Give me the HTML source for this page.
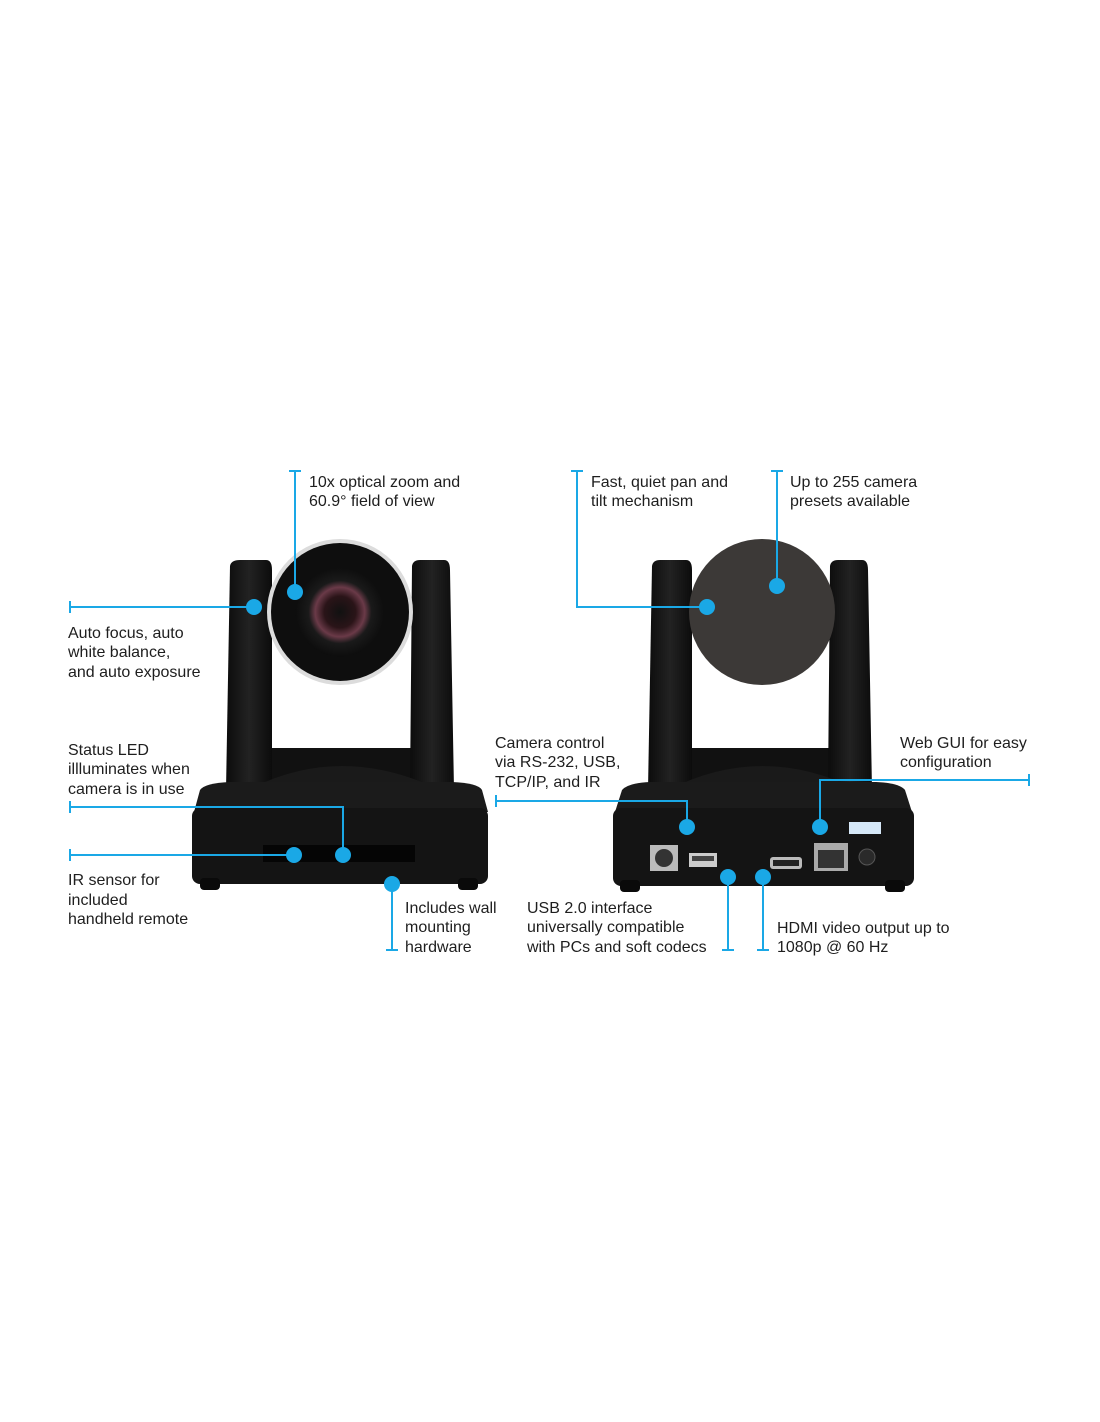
<!DOCTYPE html>
<html><head><meta charset="utf-8"><style>
html,body{margin:0;padding:0;background:#fff;}
svg{display:block}
text{font-family:"Liberation Sans",Arial,sans-serif;font-size:16px;fill:#1e1e1e;}
.b{stroke:#1aa8e6;stroke-width:2;fill:none}
.d{fill:#1aa8e6}
</style></head><body>
<svg width="1100" height="1422" viewBox="0 0 1100 1422" xmlns="http://www.w3.org/2000/svg">
<defs>
<radialGradient id="lens" cx="0.5" cy="0.5" r="0.5">
<stop offset="0" stop-color="#111"/><stop offset="0.35" stop-color="#2a1418"/><stop offset="0.55" stop-color="#6a3a48"/><stop offset="0.7" stop-color="#1a1a1a"/><stop offset="1" stop-color="#0d0d0d"/></radialGradient>
<linearGradient id="arm" x1="0" x2="1"><stop offset="0" stop-color="#0c0c0c"/><stop offset="0.5" stop-color="#222"/><stop offset="1" stop-color="#0c0c0c"/></linearGradient>
</defs>
<rect width="1100" height="1422" fill="#fff"/>

<!-- LEFT CAMERA -->
<rect x="236" y="748" width="210" height="50" fill="#111"/>
<path d="M230 566 Q231 560 240 560 L266 560 Q272 560 272 570 L272 790 L226 790 Z" fill="url(#arm)"/>
<path d="M412 566 Q413 560 420 560 L444 560 Q450 560 450 570 L454 790 L410 790 Z" fill="url(#arm)"/>
<path d="M248 790 Q340 742 440 790 Z" fill="#1a1a1a"/>
<path d="M200 790 Q205 783 230 782 L452 782 Q478 783 482 790 L488 812 L194 812 Z" fill="#1b1b1b"/>
<rect x="192" y="808" width="296" height="76" rx="8" fill="#141414"/>
<rect x="263" y="845" width="152" height="17" fill="#050505"/>
<rect x="200" y="878" width="20" height="12" rx="4" fill="#0a0a0a"/>
<rect x="458" y="878" width="20" height="12" rx="4" fill="#0a0a0a"/>
<circle cx="340" cy="612" r="73" fill="#dcdcdc"/>
<circle cx="340" cy="612" r="69" fill="#0e0e0e"/>
<circle cx="340" cy="612" r="45" fill="url(#lens)"/>

<!-- RIGHT CAMERA -->
<rect x="660" y="748" width="200" height="50" fill="#111"/>
<path d="M652 566 Q653 560 660 560 L686 560 Q692 560 692 570 L692 790 L648 790 Z" fill="url(#arm)"/>
<path d="M830 566 Q831 560 838 560 L862 560 Q868 560 868 570 L872 790 L828 790 Z" fill="url(#arm)"/>
<path d="M668 790 Q762 742 858 790 Z" fill="#1a1a1a"/>
<path d="M622 790 Q628 783 650 782 L876 782 Q900 783 905 790 L912 812 L615 812 Z" fill="#1b1b1b"/>
<rect x="613" y="808" width="301" height="78" rx="8" fill="#141414"/>
<rect x="620" y="880" width="20" height="12" rx="4" fill="#0a0a0a"/>
<rect x="885" y="880" width="20" height="12" rx="4" fill="#0a0a0a"/>
<circle cx="762" cy="612" r="73" fill="#3c3937"/>
<rect x="650" y="845" width="28" height="26" fill="#bbb"/><circle cx="664" cy="858" r="9" fill="#333"/>
<rect x="689" y="853" width="28" height="14" fill="#ccc"/><rect x="692" y="856" width="22" height="5" fill="#444"/>
<rect x="770" y="857" width="32" height="12" rx="3" fill="#bbb"/><rect x="773" y="860" width="26" height="6" fill="#222"/>
<rect x="814" y="843" width="34" height="28" fill="#aaa"/><rect x="818" y="850" width="26" height="18" fill="#333"/>
<circle cx="867" cy="857" r="8" fill="#2a2a2a" stroke="#555"/>
<rect x="849" y="822" width="32" height="12" fill="#d6e8f8"/>

<!-- CONNECTORS -->
<g class="b">
<path d="M289 471H301M295 471V592"/>
<path d="M70 601V613M70 607H254"/>
<path d="M70 801V813M70 807H343V855"/>
<path d="M70 849V861M70 855H294"/>
<path d="M392 884V950M386 950H398"/>
<path d="M571 471H583M577 471V607H707"/>
<path d="M771 471H783M777 471V586"/>
<path d="M496 795V807M496 801H687V827"/>
<path d="M1029 774V786M1029 780H820V827"/>
<path d="M728 877V950M722 950H734"/>
<path d="M763 877V950M757 950H769"/>
</g>
<g class="d">
<circle cx="295" cy="592" r="8"/><circle cx="254" cy="607" r="8"/><circle cx="343" cy="855" r="8"/>
<circle cx="294" cy="855" r="8"/><circle cx="392" cy="884" r="8"/><circle cx="707" cy="607" r="8"/>
<circle cx="777" cy="586" r="8"/><circle cx="687" cy="827" r="8"/><circle cx="820" cy="827" r="8"/>
<circle cx="728" cy="877" r="8"/><circle cx="763" cy="877" r="8"/>
</g>

<!-- LABELS -->
<text x="309" y="487">10x optical zoom and</text>
<text x="309" y="506">60.9° field of view</text>
<text x="68" y="638">Auto focus, auto</text>
<text x="68" y="657">white balance,</text>
<text x="68" y="677">and auto exposure</text>
<text x="68" y="755">Status LED</text>
<text x="68" y="774">illluminates when</text>
<text x="68" y="794">camera is in use</text>
<text x="68" y="885">IR sensor for</text>
<text x="68" y="905">included</text>
<text x="68" y="924">handheld remote</text>
<text x="405" y="913">Includes wall</text>
<text x="405" y="932">mounting</text>
<text x="405" y="952">hardware</text>
<text x="591" y="487">Fast, quiet pan and</text>
<text x="591" y="506">tilt mechanism</text>
<text x="790" y="487">Up to 255 camera</text>
<text x="790" y="506">presets available</text>
<text x="495" y="748">Camera control</text>
<text x="495" y="767">via RS-232, USB,</text>
<text x="495" y="787">TCP/IP, and IR</text>
<text x="900" y="748">Web GUI for easy</text>
<text x="900" y="767">configuration</text>
<text x="527" y="913">USB 2.0 interface</text>
<text x="527" y="932">universally compatible</text>
<text x="527" y="952">with PCs and soft codecs</text>
<text x="777" y="933">HDMI video output up to</text>
<text x="777" y="952">1080p @ 60 Hz</text>
</svg>
</body></html>
